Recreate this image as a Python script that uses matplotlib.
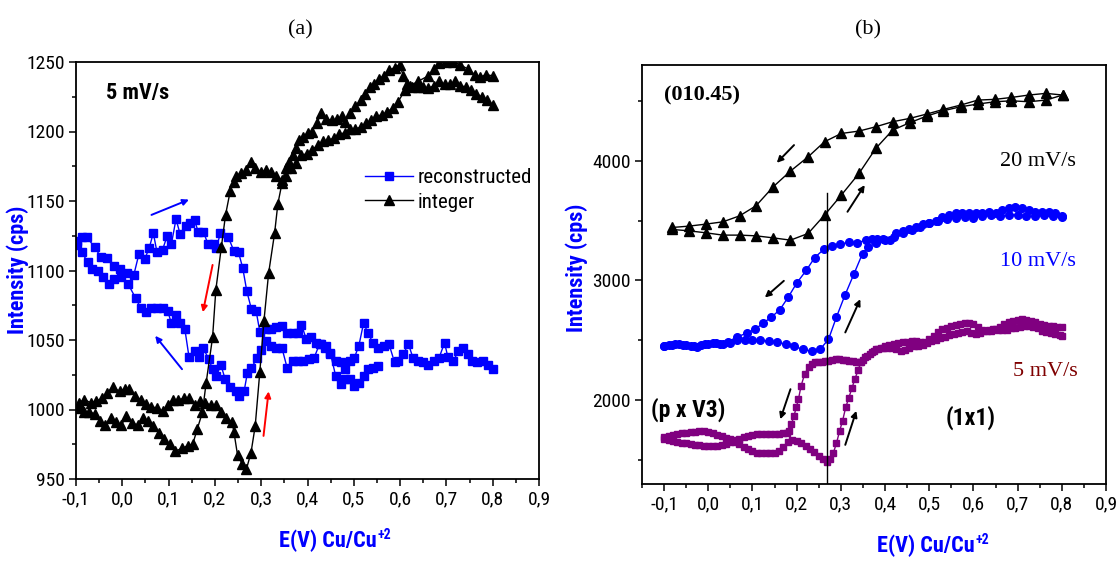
import numpy as np
import matplotlib
matplotlib.use("Agg")
import matplotlib.pyplot as plt
from matplotlib import font_manager
from matplotlib.font_manager import FontProperties
from matplotlib.ticker import FixedLocator, FuncFormatter

# ---------------- data: panel (a), 5 mV/s ----------------
recon_fwd_x = [-0.098, -0.087, -0.077, -0.06, -0.047, -0.033, -0.017, -0.006, 0.01, 0.025,
               0.036, 0.048, 0.058, 0.067, 0.075, 0.087, 0.097, 0.106, 0.116, 0.125,
               0.137, 0.147, 0.156, 0.164, 0.175, 0.185, 0.197, 0.203, 0.212, 0.229,
               0.241, 0.251, 0.26, 0.269, 0.279, 0.289, 0.297, 0.31, 0.322, 0.333,
               0.345, 0.356, 0.368, 0.379, 0.387, 0.397, 0.407, 0.418, 0.43, 0.439,
               0.449, 0.461, 0.472, 0.482, 0.491, 0.501, 0.511, 0.521, 0.531, 0.541,
               0.553, 0.565, 0.576, 0.588, 0.595, 0.607, 0.618, 0.628, 0.638, 0.649,
               0.661, 0.673, 0.684, 0.696, 0.703, 0.715, 0.726, 0.736, 0.746, 0.755,
               0.767, 0.778, 0.789, 0.8]
recon_fwd_y = [1121, 1124, 1124, 1117, 1110, 1109, 1103, 1101, 1098, 1097,
               1112, 1108, 1116, 1127, 1113, 1115, 1125, 1119, 1137, 1126,
               1132, 1134, 1136, 1128, 1128, 1119, 1119, 1116, 1127, 1124,
               1114, 1113, 1102, 1085, 1072, 1071, 1056, 1058, 1058, 1059,
               1060, 1055, 1055, 1055, 1061, 1051, 1052, 1048, 1047, 1046,
               1040, 1035, 1034, 1029, 1035, 1037, 1046, 1062, 1055, 1048,
               1044, 1046, 1047, 1034, 1035, 1040, 1047, 1037, 1035, 1034,
               1032, 1035, 1037, 1048, 1038, 1035, 1042, 1044, 1040, 1035,
               1034, 1035, 1032, 1029]
recon_rev_x = [0.552, 0.541, 0.531, 0.523, 0.511, 0.501, 0.491, 0.482, 0.472, 0.461,
               0.449, 0.437, 0.426, 0.414, 0.403, 0.391, 0.379, 0.368, 0.356, 0.345,
               0.333, 0.322, 0.31, 0.299, 0.291, 0.279, 0.27, 0.263, 0.253, 0.245,
               0.233, 0.222, 0.213, 0.203, 0.195, 0.187, 0.175, 0.166, 0.156, 0.144,
               0.135, 0.125, 0.115, 0.106, 0.098, 0.087, 0.075, 0.063, 0.052, 0.04,
               0.029, 0.013, -0.002, -0.017, -0.029, -0.041, -0.052, -0.065, -0.075, -0.087,
               -0.097]
recon_rev_y = [1031, 1030, 1029, 1024, 1019, 1017, 1022, 1022, 1018, 1024,
               1041, 1044, 1047, 1037, 1036, 1035, 1035, 1035, 1030, 1044,
               1044, 1046, 1049, 1043, 1037, 1030, 1026, 1013, 1010, 1013,
               1016, 1022, 1032, 1024, 1029, 1036, 1044, 1038, 1042, 1038,
               1058, 1062, 1068, 1062, 1071, 1073, 1073, 1073, 1070, 1073,
               1080, 1090, 1095, 1094, 1090, 1095, 1100, 1101, 1106, 1113,
               1118]

integer_fwd_x = [-0.093, -0.083, -0.068, -0.056, -0.044, -0.033, -0.021, -0.006, 0.006, 0.015,
                 0.027, 0.04, 0.052, 0.063, 0.075, 0.087, 0.098, 0.11, 0.121, 0.133,
                 0.144, 0.156, 0.168, 0.179, 0.191, 0.202, 0.214, 0.225, 0.237, 0.241,
                 0.249, 0.259, 0.268, 0.278, 0.287, 0.297, 0.306, 0.316, 0.329, 0.336,
                 0.345, 0.353, 0.36, 0.368, 0.376, 0.382, 0.391, 0.4, 0.41, 0.42,
                 0.43, 0.441, 0.453, 0.464, 0.474, 0.482, 0.491, 0.503, 0.515, 0.524,
                 0.534, 0.544, 0.555, 0.565, 0.576, 0.588, 0.599, 0.607, 0.615, 0.626,
                 0.638, 0.649, 0.661, 0.673, 0.684, 0.696, 0.707, 0.719, 0.73, 0.742,
                 0.753, 0.765, 0.776, 0.788, 0.8]
integer_fwd_y = [1005, 1007, 1005, 1006, 1008, 1012, 1016, 1013, 1015, 1015,
                 1010, 1007, 1004, 1002, 1001, 999, 1003, 1007, 1007, 1008,
                 1008, 1003, 1006, 1005, 1003, 1003, 998, 994, 991, 984,
                 967, 961, 957, 969, 988, 1027, 1064, 1098, 1127, 1148,
                 1163, 1174, 1178, 1183, 1188, 1194, 1196, 1199, 1200, 1206,
                 1213, 1209, 1208, 1209, 1211, 1207, 1213, 1218, 1223, 1227,
                 1232, 1234, 1238, 1240, 1244, 1246, 1248, 1240, 1234, 1232,
                 1232, 1232, 1231, 1233, 1236, 1234, 1234, 1236, 1233, 1232,
                 1230, 1227, 1225, 1223, 1219]
integer_rev_x = [0.8, 0.785, 0.773, 0.761, 0.746, 0.73, 0.715, 0.7, 0.684, 0.673,
                 0.661, 0.638, 0.622, 0.611, 0.595, 0.584, 0.572, 0.561, 0.549, 0.538,
                 0.526, 0.515, 0.503, 0.491, 0.48, 0.468, 0.457, 0.445, 0.434, 0.422,
                 0.41, 0.399, 0.387, 0.376, 0.364, 0.353, 0.345, 0.333, 0.322, 0.31,
                 0.299, 0.287, 0.279, 0.268, 0.256, 0.246, 0.241, 0.233, 0.223, 0.214,
                 0.202, 0.195, 0.181, 0.173, 0.162, 0.152, 0.141, 0.129, 0.114, 0.102,
                 0.09, 0.079, 0.067, 0.056, 0.044, 0.033, 0.021, 0.009, -0.002, -0.014,
                 -0.025, -0.037, -0.048, -0.06, -0.071, -0.083, -0.093]
integer_rev_y = [1240, 1241, 1239, 1241, 1245, 1248, 1250, 1250, 1249, 1245,
                 1240, 1236, 1233, 1230, 1221, 1217, 1214, 1212, 1211, 1208,
                 1206, 1203, 1202, 1202, 1199, 1198, 1195, 1194, 1193, 1190,
                 1187, 1184, 1183, 1177, 1174, 1168, 1165, 1168, 1171, 1172,
                 1171, 1174, 1178, 1172, 1170, 1168, 1164, 1157, 1140, 1117,
                 1086, 1052, 1019, 998, 986, 975, 974, 972, 970, 975,
                 979, 983, 988, 992, 994, 989, 990, 995, 989, 991,
                 994, 989, 992, 997, 998, 998, 1001]

# ---------------- data: panel (b), (0 1 0.45) rod ----------------
r20_x = [-0.081, -0.044, -0.005, 0.033, 0.071, 0.108, 0.147, 0.186, 0.226, 0.263,
         0.301, 0.341, 0.379, 0.417, 0.456, 0.494, 0.532, 0.571, 0.61, 0.649,
         0.686, 0.725, 0.764, 0.802]
r20_fwd_y = [3426, 3415, 3398, 3379, 3379, 3373, 3356, 3337, 3393, 3546,
             3713, 3894, 4103, 4256, 4318, 4373, 4418, 4451, 4474, 4493,
             4501, 4493, 4507, 4549]
r20_rev_y = [3443, 3454, 3471, 3490, 3540, 3624, 3783, 3914, 4033, 4159,
             4228, 4248, 4284, 4326, 4354, 4390, 4429, 4465, 4507, 4513,
             4529, 4549, 4563, 4549]

r10_fwd_x = [-0.1, -0.083, -0.066, -0.05, -0.033, -0.017, 0.0, 0.017, 0.034, 0.05,
             0.064, 0.082, 0.1, 0.118, 0.137, 0.156, 0.175, 0.193, 0.214, 0.234,
             0.253, 0.272, 0.29, 0.309, 0.33, 0.349, 0.362, 0.38, 0.4, 0.42,
             0.44, 0.46, 0.48, 0.5, 0.52, 0.54, 0.56, 0.58, 0.6, 0.62,
             0.64, 0.66, 0.68, 0.7, 0.72, 0.74, 0.76, 0.78, 0.8]
r10_fwd_y = [2455, 2462, 2468, 2458, 2450, 2465, 2470, 2475, 2468, 2480,
             2506, 2500, 2500, 2500, 2494, 2486, 2467, 2450, 2425, 2408,
             2425, 2508, 2694, 2875, 3058, 3225, 3281, 3310, 3335, 3360,
             3395, 3420, 3450, 3480, 3500, 3515, 3520, 3530, 3525, 3540,
             3545, 3535, 3545, 3550, 3535, 3540, 3545, 3540, 3530]
r10_rev_x = [-0.1, -0.09, -0.075, -0.058, -0.04, -0.025, -0.008, 0.01, 0.027, 0.045,
             0.066, 0.087, 0.106, 0.124, 0.143, 0.162, 0.181, 0.2, 0.222, 0.241,
             0.261, 0.28, 0.297, 0.318, 0.337, 0.357, 0.37, 0.382, 0.396, 0.411,
             0.425, 0.44, 0.455, 0.47, 0.485, 0.5, 0.515, 0.53, 0.545, 0.56,
             0.575, 0.59, 0.605, 0.62, 0.635, 0.65, 0.665, 0.68, 0.695, 0.71,
             0.725, 0.74, 0.755, 0.77, 0.785, 0.8]
r10_rev_y = [2450, 2458, 2470, 2462, 2455, 2448, 2470, 2478, 2472, 2490,
             2529, 2561, 2592, 2644, 2694, 2756, 2861, 2978, 3086, 3192,
             3259, 3287, 3301, 3320, 3315, 3337, 3343, 3343, 3345, 3337,
             3393, 3410, 3434, 3450, 3470, 3482, 3500, 3532, 3545, 3560,
             3565, 3565, 3560, 3565, 3570, 3565, 3590, 3602, 3616, 3605,
             3590, 3574, 3574, 3574, 3565, 3538]

r5_fwd_x = [-0.1, -0.09, -0.08, -0.07, -0.06, -0.05, -0.04, -0.03, -0.02, -0.01,
            0.0, 0.01, 0.02, 0.03, 0.04, 0.05, 0.06, 0.07, 0.08, 0.09,
            0.1, 0.11, 0.12, 0.13, 0.14, 0.15, 0.16, 0.17, 0.18, 0.19,
            0.2, 0.21, 0.22, 0.23, 0.24, 0.25, 0.26, 0.268, 0.275, 0.283,
            0.29, 0.297, 0.304, 0.311, 0.318, 0.325, 0.332, 0.339, 0.346, 0.355,
            0.365, 0.375, 0.385, 0.395, 0.405, 0.415, 0.425, 0.435, 0.445, 0.455,
            0.465, 0.475, 0.485, 0.495, 0.505, 0.515, 0.525, 0.535, 0.545, 0.555,
            0.565, 0.575, 0.585, 0.595, 0.605, 0.615, 0.625, 0.635, 0.645, 0.655,
            0.665, 0.675, 0.685, 0.695, 0.705, 0.715, 0.725, 0.735, 0.745, 0.755,
            0.765, 0.775, 0.785, 0.795, 0.8]
r5_fwd_y = [1694, 1705, 1712, 1718, 1722, 1728, 1733, 1738, 1742, 1740,
            1732, 1722, 1712, 1700, 1688, 1672, 1652, 1632, 1612, 1595,
            1575, 1558, 1555, 1556, 1558, 1562, 1578, 1612, 1652, 1670,
            1662, 1645, 1618, 1592, 1566, 1538, 1505, 1486, 1510, 1560,
            1640, 1740, 1830, 1940, 2020, 2100, 2180, 2250, 2320, 2360,
            2390, 2412, 2425, 2435, 2440, 2440, 2430, 2415, 2420, 2440,
            2450, 2455, 2465, 2475, 2492, 2505, 2520, 2532, 2545, 2550,
            2560, 2570, 2578, 2560, 2550, 2565, 2578, 2585, 2592, 2588,
            2585, 2590, 2600, 2607, 2612, 2618, 2620, 2612, 2600, 2582,
            2572, 2565, 2555, 2545, 2538]
r5_rev_x = [0.8, 0.79, 0.78, 0.77, 0.76, 0.75, 0.74, 0.73, 0.72, 0.71,
            0.7, 0.69, 0.68, 0.67, 0.66, 0.65, 0.64, 0.63, 0.62, 0.61,
            0.6, 0.59, 0.58, 0.57, 0.56, 0.55, 0.54, 0.53, 0.52, 0.51,
            0.5, 0.49, 0.48, 0.47, 0.46, 0.45, 0.44, 0.43, 0.42, 0.41,
            0.4, 0.39, 0.38, 0.37, 0.36, 0.35, 0.343, 0.335, 0.327, 0.319,
            0.311, 0.304, 0.296, 0.288, 0.28, 0.272, 0.264, 0.257, 0.249, 0.241,
            0.234, 0.227, 0.218, 0.21, 0.204, 0.199, 0.194, 0.188, 0.183, 0.177,
            0.17, 0.16, 0.15, 0.14, 0.13, 0.12, 0.11, 0.1, 0.09, 0.08,
            0.07, 0.06, 0.05, 0.04, 0.03, 0.02, 0.01, 0.0, -0.01, -0.02,
            -0.03, -0.04, -0.05, -0.06, -0.07, -0.08, -0.09, -0.1]
r5_rev_y = [2613, 2613, 2618, 2622, 2630, 2640, 2650, 2660, 2668, 2677,
            2672, 2665, 2650, 2635, 2615, 2592, 2582, 2580, 2588, 2610,
            2635, 2649, 2645, 2637, 2628, 2620, 2605, 2593, 2570, 2540,
            2510, 2490, 2485, 2495, 2492, 2488, 2482, 2475, 2468, 2460,
            2452, 2440, 2425, 2400, 2370, 2335, 2315, 2315, 2325, 2329,
            2332, 2334, 2340, 2343, 2335, 2329, 2326, 2323, 2320, 2315,
            2300, 2279, 2217, 2120, 2008, 1940, 1869, 1800, 1740, 1730,
            1722, 1717, 1717, 1717, 1718, 1717, 1715, 1712, 1705, 1695,
            1680, 1664, 1648, 1636, 1625, 1618, 1617, 1618, 1620, 1624,
            1628, 1634, 1639, 1645, 1652, 1658, 1665, 1672]

x_major = [-0.1, 0.0, 0.1, 0.2, 0.3, 0.4, 0.5, 0.6, 0.7, 0.8, 0.9]
a_y_major = [950, 1000, 1050, 1100, 1150, 1200, 1250]
b_y_major = [2000, 3000, 4000]
transition_E = 0.268

# ---------------- fonts ----------------
SANS = "Liberation Sans"
SERIF = "Liberation Serif"
plt.rcParams["font.family"] = [SANS, "DejaVu Sans"]


def _pick_condensed():
    """Return (regular_path, bold_path) of a narrow sans face, if one is installed."""
    prefs = ["liberation sans narrow", "arial narrow", "roboto condensed",
             "open sans condensed", "dejavu sans condensed", "noto sans condensed"]
    found = {}
    for f in font_manager.fontManager.ttflist:
        key = (f.name + " " + f.fname).lower()
        if f.style != "normal":
            continue
        narrow = ("narrow" in key or "condensed" in key
                  or str(f.stretch) in ("condensed", "semi-condensed"))
        if not narrow or "extra" in key or "ultra" in key or "semi" in key:
            continue
        for p in prefs:
            tag = p.split()[0]
            if tag in key:
                w = f.weight if isinstance(f.weight, int) else (700 if "bold" in str(f.weight) else 400)
                slot = found.setdefault(p, {})
                if 350 <= w <= 450:
                    slot.setdefault("r", f.fname)
                elif 650 <= w <= 750:
                    slot.setdefault("b", f.fname)
    for p in prefs:
        slot = found.get(p, {})
        if "r" in slot and "b" in slot:
            return slot["r"], slot["b"]
    return None, None


COND_R, COND_B = _pick_condensed()


def cfont(size, bold=False):
    path = COND_B if bold else COND_R
    if path:
        return FontProperties(fname=path, size=size)
    return FontProperties(family=SANS, size=size - 1, weight="bold" if bold else "normal")


BLUE = "#0000ff"
PURPLE = "#800080"
MAROON = "#7f0000"


def comma(v, _pos):
    return f"{v:.1f}".replace(".", ",")


def style_axes(ax, xmin, ylim, y_major, y_minor):
    ax.set_xlim(xmin, 0.9)
    ax.set_ylim(*ylim)
    ax.xaxis.set_major_locator(FixedLocator(x_major))
    ax.xaxis.set_minor_locator(FixedLocator(np.arange(-0.15, 0.9, 0.1)))
    ax.xaxis.set_major_formatter(FuncFormatter(comma))
    ax.yaxis.set_major_locator(FixedLocator(y_major))
    ax.yaxis.set_minor_locator(FixedLocator(y_minor))
    ax.tick_params(which="both", direction="out", top=False, right=False,
                   width=1.1, pad=3)
    ax.tick_params(which="major", length=5)
    ax.tick_params(which="minor", length=3)
    for lbl in ax.get_xticklabels() + ax.get_yticklabels():
        lbl.set_fontproperties(cfont(14))
    for s in ax.spines.values():
        s.set_linewidth(1.3)


def arrow(ax, tail, head, color):
    ax.annotate("", xy=head, xytext=tail,
                arrowprops=dict(arrowstyle="-|>", color=color, lw=1.4,
                                mutation_scale=9, shrinkA=0, shrinkB=0))


def energy_label(fig, xc, yc):
    t = fig.text(xc, yc, "E(V) Cu/Cu", color=BLUE, fontproperties=cfont(16, True),
                 ha="center", va="center")
    fig.text(0, 0, "", alpha=0)
    ann = plt.annotate("+2", xy=(1.0, 1.0), xycoords=t, xytext=(0.5, 1.5),
                       textcoords="offset points", ha="left", va="top",
                       color=BLUE, fontproperties=cfont(10, True),
                       annotation_clip=False)
    return t, ann


fig = plt.figure(figsize=(11.2, 5.62), dpi=100)

# ---------------- panel (a) ----------------
ax1 = fig.add_axes([76 / 1120, 83 / 562, 463 / 1120, 417 / 562])
style_axes(ax1, -0.1, (950, 1250), a_y_major, np.arange(975, 1250, 50))
ax1.plot(recon_fwd_x, recon_fwd_y, "-s", color=BLUE, ms=6, lw=1, label="reconstructed")
ax1.plot(recon_rev_x, recon_rev_y, "-s", color=BLUE, ms=6, lw=1)
ax1.plot(integer_fwd_x, integer_fwd_y, "-^", color="black", ms=7, lw=1, label="integer")
ax1.plot(integer_rev_x, integer_rev_y, "-^", color="black", ms=7, lw=1)

arrow(ax1, (0.063, 1140), (0.144, 1151), BLUE)
arrow(ax1, (0.129, 1029), (0.071, 1053), BLUE)
arrow(ax1, (0.195, 1104), (0.174, 1070), "red")
arrow(ax1, (0.305, 981), (0.316, 1013), "red")

ax1.text(-0.035, 1228, "5 mV/s", fontproperties=cfont(16, True), va="center", ha="left")
ax1.legend(loc="upper left", bbox_to_anchor=(0.625, 0.745), frameon=False,
           borderaxespad=0, borderpad=0, handlelength=2.3, handletextpad=0.2,
           labelspacing=0.25, prop=cfont(15))

fig.text(300 / 1120, 1 - 30 / 562, "(a)", family=SERIF, fontsize=16, ha="center", va="center")
fig.text(18 / 1120, 1 - 270 / 562, "Intensity (cps)", color=BLUE, fontproperties=cfont(16, True),
         rotation=90, ha="center", va="center")
ax_a_label = energy_label(fig, 328 / 1120, 1 - 541 / 562)

# ---------------- panel (b) ----------------
ax2 = fig.add_axes([642 / 1120, 78 / 562, 464 / 1120, 419 / 562])
style_axes(ax2, -0.15, (1300, 4800), b_y_major, [1500, 2500, 3500, 4500])
ax2.plot(r20_x, r20_fwd_y, "-^", color="black", ms=6.5, lw=1)
ax2.plot(r20_x, r20_rev_y, "-^", color="black", ms=6.5, lw=1)
ax2.plot(r10_fwd_x, r10_fwd_y, "-o", color=BLUE, ms=5.5, lw=1)
ax2.plot(r10_rev_x, r10_rev_y, "-o", color=BLUE, ms=5.5, lw=1)
ax2.plot(r5_fwd_x, r5_fwd_y, "-s", color=PURPLE, ms=4.5, lw=1)
ax2.plot(r5_rev_x, r5_rev_y, "-s", color=PURPLE, ms=4.5, lw=1)
ax2.plot([transition_E, transition_E], [1300, 3727], color="black", lw=1)

arrow(ax2, (0.194, 4131), (0.155, 3983), "black")
arrow(ax2, (0.315, 3574), (0.354, 3797), "black")
arrow(ax2, (0.171, 2997), (0.128, 2858), "black")
arrow(ax2, (0.31, 2566), (0.344, 2844), "black")
arrow(ax2, (0.186, 2092), (0.163, 1841), "black")
arrow(ax2, (0.31, 1627), (0.335, 1911), "black")

ax2.text(-0.1, 4549, "(010.45)", family=SERIF, fontsize=16, fontweight="bold", va="center")
ax2.text(0.66, 3992, "20 mV/s", family=SERIF, fontsize=16, va="center")
ax2.text(0.66, 3156, "10 mV/s", family=SERIF, fontsize=16, va="center", color=BLUE)
ax2.text(0.69, 2240, "5 mV/s", family=SERIF, fontsize=16, va="center", color=MAROON)
ax2.text(-0.13, 1916, "(p x V3)", fontproperties=cfont(17, True), va="center")
ax2.text(0.538, 1855, "(1x1)", fontproperties=cfont(17, True), va="center")

fig.text(868 / 1120, 1 - 30 / 562, "(b)", family=SERIF, fontsize=16, ha="center", va="center")
fig.text(577 / 1120, 1 - 268 / 562, "Intensity (cps)", color=BLUE, fontproperties=cfont(16, True),
         rotation=90, ha="center", va="center")
ax_b_label = energy_label(fig, 926 / 1120, 1 - 546 / 562)

fig.savefig("out.png", dpi=100)
